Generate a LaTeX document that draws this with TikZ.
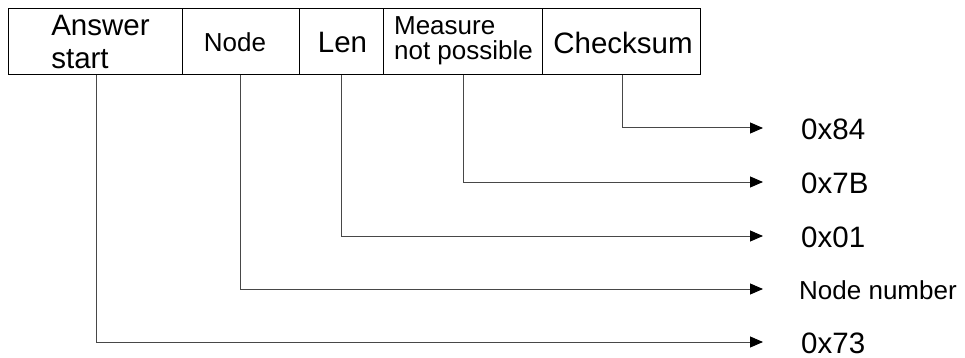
\documentclass[tikz,border=0pt]{standalone}
\usepackage{fontspec}
\setmainfont{Liberation Sans}
\usetikzlibrary{arrows.meta}
\begin{document}
\begin{tikzpicture}[x=1pt,y=-1pt,
  cell/.style={draw=black, line width=1pt, rectangle, inner sep=0pt, outer sep=0pt, minimum height=66pt, anchor=center},
  bigtxt/.style={font=\fontsize{29.5}{33}\selectfont},
  smalltxt/.style={font=\fontsize{26}{25}\selectfont},
  conn/.style={draw=black!72, line width=1pt, -{Triangle[length=13pt,width=11pt,color=black]}},
  lbl/.style={anchor=west, inner sep=0pt}
]
\useasboundingbox (0,0) rectangle (965,358);
% cells
\node[cell, minimum width=174pt] (ans) at (95,42) {};
\node[cell, minimum width=117pt] (nod) at (240.5,42) {};
\node[cell, minimum width=84pt] (len) at (341,42) {};
\node[cell, minimum width=159pt] (mea) at (462.5,42) {};
\node[cell, minimum width=158pt] (chk) at (621,42) {};
% cell texts
\node[bigtxt, align=left, inner sep=0pt] (tans) at (100.5,42) {Answer\\start};
\node[smalltxt, inner sep=0pt] (tnod) at (235,42) {Node};
\node[bigtxt, inner sep=0pt] (tlen) at (342.5,42) {Len};
\node[smalltxt, align=left, inner sep=0pt] (tmea) at (463.5,41) {Measure\\not possible};
\node[bigtxt, inner sep=0pt] (tchk) at (623,43) {Checksum};
% arrow end points
\coordinate (e1) at (763,128);
\coordinate (e2) at (763,182);
\coordinate (e3) at (763,236);
\coordinate (e4) at (763,289);
\coordinate (e5) at (763,342);
% labels
\node[lbl, bigtxt] (l1) at (801,129) {0x84};
\node[lbl, bigtxt] (l2) at (801,183) {0x7B};
\node[lbl, bigtxt] (l3) at (801,237) {0x01};
\node[lbl, smalltxt] (l4) at (799,290) {Node number};
\node[lbl, bigtxt] (l5) at (801,343) {0x73};
% connectors
\draw[conn] ([xshift=1pt]chk.south) |- (e1);
\draw[conn] ([xshift=0.5pt]mea.south) |- (e2);
\draw[conn] (len.south) |- (e3);
\draw[conn] ([xshift=-0.5pt]nod.south) |- (e4);
\draw[conn] ([xshift=1pt]ans.south) |- (e5);
\end{tikzpicture}
\end{document}
